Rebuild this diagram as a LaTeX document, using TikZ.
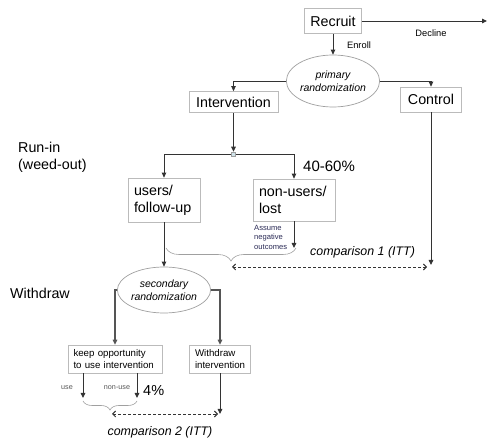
\documentclass[tikz,border=0pt]{standalone}
\usepackage{fontspec}
\setmainfont{Liberation Sans}
\usetikzlibrary{arrows.meta,shapes.geometric,decorations.pathreplacing}
\definecolor{boxgray}{HTML}{BBBBBB}
\definecolor{linegray}{HTML}{333333}
\definecolor{thickgray}{HTML}{555555}
\definecolor{bracegray}{HTML}{A0A0A0}
\definecolor{notecol}{HTML}{2A2A55}
\definecolor{juncfill}{HTML}{CFE3EA}
\begin{document}
\begin{tikzpicture}[x=1pt,y=-1pt,
  box/.style={draw=boxgray, line width=0.7pt, fill=white, inner sep=0pt},
  bigfont/.style={font=\fontsize{14.3}{17}\selectfont},
  midfont/.style={font=\fontsize{9.7}{11.5}\selectfont},
  oval/.style={ellipse, draw=bracegray, line width=0.7pt, fill=white, inner sep=0pt, align=center,
    font=\fontsize{10.5}{13}\selectfont\itshape},
  arr/.style={draw=linegray, line width=0.9pt, -{Triangle[length=5pt,width=4.5pt]}},
  thickarr/.style={draw=thickgray, line width=1.3pt, -{Triangle[length=5pt,width=4.5pt]}},
  dasharr/.style={draw=linegray, line width=0.9pt, dash pattern=on 3pt off 2pt,
    {Straight Barb[length=3pt,width=6pt]}-{Straight Barb[length=3pt,width=6pt]}},
  bracestyle/.style={draw=bracegray, line width=0.6pt, decorate, decoration={brace, amplitude=#1}},
  lbl/.style={inner sep=0pt},
]
\useasboundingbox (0,0) rectangle (496,446);

% boxes
\node[box, bigfont, minimum width=57pt, minimum height=25pt] (recruit) at (333,21) {Recruit};
\node[oval, minimum width=91pt, minimum height=52pt] (prim) at (333,81) {primary\\randomization};
\node[box, bigfont, minimum width=89pt, minimum height=21pt] (interv) at (233.5,102) {Intervention};
\node[box, bigfont, minimum width=61pt, minimum height=25pt] (control) at (431,99.5) {Control};
\node[box, fill=juncfill, draw=bracegray, line width=0.5pt, minimum size=4pt] (junc) at (233.5,154) {};
\node[box, bigfont, align=left, text width=60pt, inner xsep=6pt, minimum height=44pt] (users) at (164,200) {users/\\follow-up};
\node[box, bigfont, align=left, text width=70pt, inner xsep=6pt, minimum height=42pt] (nonusers) at (294,200) {non-users/\\lost};
\node[oval, minimum width=92pt, minimum height=46pt] (sec) at (164,290) {secondary\\randomization};
\node[box, midfont, align=left, text width=83pt, inner xsep=5.5pt, minimum height=28pt] (keep) at (115,359) {keep opportunity\\to use intervention};
\node[box, midfont, align=left, text width=50pt, inner xsep=5.5pt, minimum height=28pt] (withdraw) at (220,359) {Withdraw\\intervention};

% labels
\node[lbl, font=\fontsize{9.3}{11}\selectfont] (decline) at (431,33) {Decline};
\node[lbl, font=\fontsize{9.3}{11}\selectfont] (enroll) at (359,45) {Enroll};
\node[lbl, bigfont, align=left, anchor=west] (runin) at (18,157) {Run-in\\(weed-out)};
\node[lbl, bigfont, anchor=west] (withdrawlbl) at (10,293) {Withdraw};
\node[lbl, font=\fontsize{15}{17}\selectfont, anchor=west] (pct1) at (303,166) {40-60\%};
\node[lbl, font=\fontsize{7.6}{9.3}\selectfont, text=notecol, align=left, anchor=north west] (note) at (254,225) {Assume\\negative\\outcomes};
\node[lbl, font=\fontsize{12.4}{14}\selectfont\itshape, anchor=west] (comp1) at (310,252) {comparison 1 (ITT)};
\node[lbl, font=\fontsize{7.2}{9}\selectfont, text=thickgray] (use) at (67,388) {use};
\node[lbl, font=\fontsize{7.2}{9}\selectfont, text=thickgray] (nonuse) at (117,388) {non-use};
\node[lbl, font=\fontsize{14.5}{17}\selectfont, anchor=west] (pct2) at (143,391) {4\%};
\node[lbl, font=\fontsize{12.4}{14}\selectfont\itshape] (comp2) at (160,432) {comparison 2 (ITT)};

% coordinates
\coordinate (declineend) at (487,21);
\coordinate (nuend) at (294,248);
\coordinate (ctrlend) at (431,265);
\coordinate (c1l) at (232,267);
\coordinate (c1r) at (427,267);
\coordinate (b1r) at (296,248);
\coordinate (b1l) at (166,248);
\coordinate (u1) at (83,398);
\coordinate (u2) at (137,398);
\coordinate (b2r) at (137,401);
\coordinate (b2l) at (83,401);
\coordinate (wdend) at (220,414);
\coordinate (c2l) at (112,414);
\coordinate (c2r) at (218,414);

% connectors
\draw[arr] (recruit.east) -- (declineend);
\draw[arr] (recruit.south) -- (prim.north);
\draw[arr] (prim.west) -| (interv.north);
\draw[arr] (prim.east) -| (control.north);
\draw[arr] (interv.south) -- (junc.north);
\draw[arr] (junc.west) -| (users.north);
\draw[arr] (junc.east) -| (nonusers.north);
\draw[arr] (nonusers.south) -- (nuend);
\draw[arr] (control.south) -- (ctrlend);
\draw[arr] (users.south) -- (sec.north);
\draw[bracestyle=13pt] (b1r) -- (b1l);
\draw[dasharr] (c1l) -- (c1r);
\draw[thickarr] (sec.west) -| (keep.north);
\draw[thickarr] (sec.east) -| (withdraw.north);
\draw[arr] (u1 |- keep.south) -- (u1);
\draw[arr] (u2 |- keep.south) -- (u2);
\draw[bracestyle=9pt] (b2r) -- (b2l);
\draw[arr] (withdraw.south) -- (wdend);
\draw[dasharr] (c2l) -- (c2r);
\end{tikzpicture}
\end{document}
